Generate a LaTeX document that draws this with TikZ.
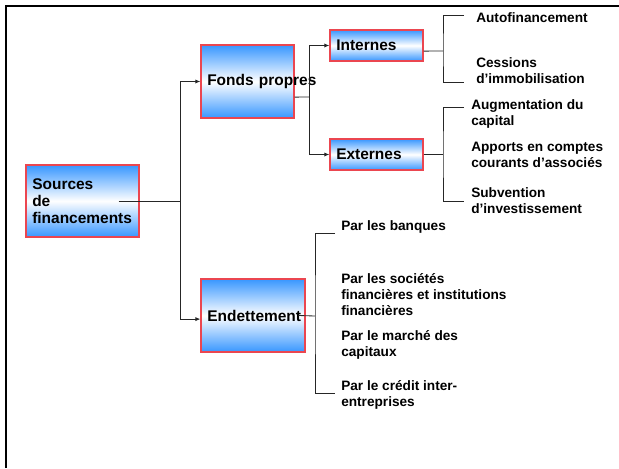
\documentclass[tikz,border=0pt]{standalone}
\usepackage{fontspec}
\setmainfont{Liberation Sans}
\usepackage{xcolor}
\usepackage{tikz}
\usetikzlibrary{arrows.meta, positioning}

\definecolor{boxblue}{RGB}{55,150,255}
\definecolor{boxred}{RGB}{235,70,80}

\begin{document}
\begin{tikzpicture}[
    x=0.025cm, y=-0.025cm,
    box/.style={rectangle, draw=boxred, line width=0.9pt, top color=boxblue, bottom color=boxblue, middle color=white, align=left, inner xsep=0.16cm, font=\fontsize{11}{12.1}\selectfont\bfseries},
    leaf/.style={anchor=west, align=left, inner sep=0pt, font=\fontsize{9.7}{11.4}\selectfont\bfseries},
    link/.style={draw=black!85, line width=0.6pt},
    arrow/.style={link, -{Latex[length=3.5pt,width=3pt]}}
]
\useasboundingbox (0,0) rectangle (619,468);

% Frame
\draw[line width=2pt] (6,468) -- (6,6) -- (619,6);

% Boxes
\node[box, text width=2.51cm, minimum height=1.8cm] (src) at (82.5,201) {Sources\\de\\financements};
\node[box, text width=2.01cm, minimum height=1.83cm] (fonds) at (247.5,81.5) {\mbox{Fonds propres}};
\node[box, text width=2.01cm, minimum height=0.78cm] (intern) at (376.5,45.5) {Internes};
\node[box, text width=2.01cm, minimum height=0.78cm] (extern) at (376.5,154.5) {Externes};
\node[box, text width=2.28cm, minimum height=1.83cm] (endet) at (253,315.5) {\mbox{Endettement}};

% Leaves
\node[leaf] (autof) at (476,18) {Autofinancement};
\node[leaf] (cess) at (476,71) {Cessions\\d’immobilisation};
\node[leaf] (augm) at (471,114) {Augmentation du\\capital};
\node[leaf] (appo) at (471,155) {Apports en comptes\\courants d’associés};
\node[leaf] (subv) at (471,201) {Subvention\\d’investissement};
\node[leaf] (banq) at (341,227) {Par les banques};
\node[leaf] (soc) at (341,295) {Par les sociétés\\financières et institutions\\financières};
\node[leaf] (marche) at (341,345) {Par le marché des\\capitaux};
\node[leaf] (credit) at (341,395) {Par le crédit inter-\\entreprises};

% Bus points
\coordinate (srcbus) at (180,201);
\coordinate (fbus) at (309,97);
\coordinate (ibus) at (443,51);
\coordinate (ebus) at (443,154.5);
\coordinate (dbus) at (315,316);
\coordinate (itop) at (464,15);
\coordinate (ibot) at (464,82);
\coordinate (etop) at (464,107);
\coordinate (ebot) at (464,201);
\coordinate (dtop) at (335,233);
\coordinate (dbot) at (335,393);

% Connectors
\draw[link] ([xshift=-0.53cm]src.east) -- (srcbus);
\draw[arrow] (srcbus) |- (fonds.west);
\draw[arrow] (srcbus) |- ([yshift=-0.09cm]endet.west);
\draw[link] ([yshift=-0.39cm]fonds.east) -- (fbus);
\draw[arrow] (fbus) |- (intern.west);
\draw[arrow] (fbus) |- (extern.west);
\draw[link] ([yshift=-0.14cm]intern.east) -- (ibus);
\draw[link] (itop) -| (ibus) |- (ibot);
\draw[link] (extern.east) -- (ebus);
\draw[link] (etop) -| (ebus) |- (ebot);
\draw[link] ([xshift=-0.18cm]endet.east) -- (dbus);
\draw[link] (dtop) -| (dbus) |- (dbot);

\end{tikzpicture}
\end{document}
